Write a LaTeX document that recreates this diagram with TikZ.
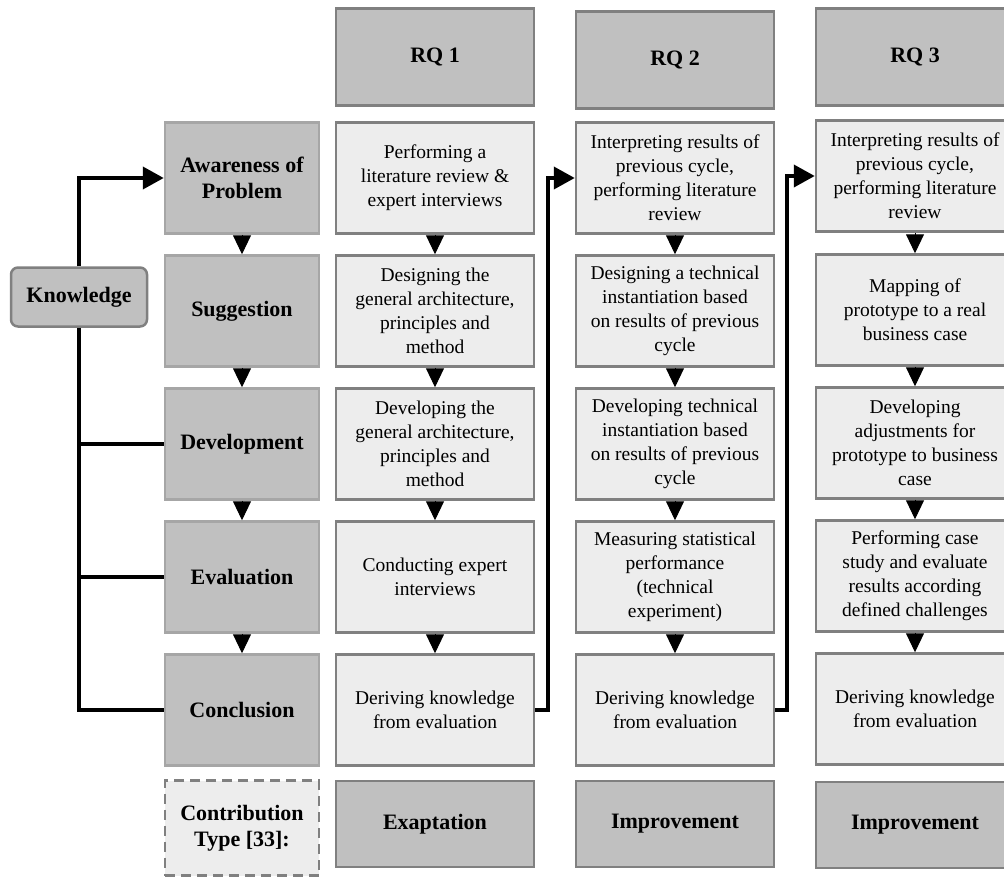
\documentclass[tikz,border=0pt]{standalone}
\usepackage{fontspec}
\setmainfont{Liberation Serif}
\usetikzlibrary{arrows.meta}
\definecolor{darkbox}{HTML}{C0C0C0}
\definecolor{lightbox}{HTML}{EDEDED}
\definecolor{phaseline}{HTML}{A6A6A6}
\definecolor{boxline}{HTML}{808080}

\begin{document}
\begin{tikzpicture}[x=1pt,y=-1pt,
  phase/.style={shape=rectangle,draw=phaseline,fill=darkbox,line width=2.5pt,minimum width=154pt,minimum height=111pt,inner sep=0pt,align=center,font=\bfseries\fontsize{22}{26}\selectfont},
  rq/.style={shape=rectangle,draw=boxline,fill=darkbox,line width=2.5pt,minimum width=198pt,minimum height=97pt,inner sep=0pt,align=center,font=\bfseries\fontsize{22}{26}\selectfont},
  task/.style={shape=rectangle,draw=boxline,fill=lightbox,line width=2.5pt,minimum width=198pt,minimum height=111pt,inner sep=0pt,align=center,font=\fontsize{19.5}{24}\selectfont},
  flow/.style={-{Triangle[length=21pt,width=22pt]},line width=4pt},
  down/.style={-{Triangle[length=19pt,width=18pt]},line width=1pt}]
\useasboundingbox (0,0) rectangle (1004,879);

% phases
\path (79,297) node (know) [shape=rectangle,rounded corners=7pt,draw=boxline,fill=darkbox,line width=2.5pt,minimum width=136pt,minimum height=59pt,font=\bfseries\fontsize{22}{26}\selectfont] {Knowledge};
\path (242,178) node (aware) [phase] {Awareness of\\Problem};
\path (242,311) node (sugg) [phase] {Suggestion};
\path (242,444) node (devel) [phase] {Development};
\path (242,577) node (evalu) [phase] {Evaluation};
\path (242,710) node (concl) [phase] {Conclusion};
\path (242,828) node (contrib) [phase,dash pattern=on 10pt off 6pt,draw=boxline,fill=lightbox,minimum height=95pt] {Contribution\\Type [33]:};

% research questions
\path (435,57) node (rq1) [rq] {RQ 1};
\path (675,60) node (rq2) [rq] {RQ 2};
\path (915,57) node (rq3) [rq] {RQ 3};

% cycle 1
\path (435,178) node (r1a) [task] {Performing a\\literature review \&\\expert interviews};
\path (435,311) node (r1b) [task] {Designing the\\general architecture,\\principles and\\method};
\path (435,444) node (r1c) [task] {Developing the\\general architecture,\\principles and\\method};
\path (435,577) node (r1d) [task] {Conducting expert\\interviews};
\path (435,710) node (r1e) [task] {Deriving knowledge\\from evaluation};
\path (435,824) node (r1f) [rq,minimum height=86pt] {Exaptation};

% cycle 2
\path (675,178) node (r2a) [task] {Interpreting results of\\previous cycle,\\performing literature\\review};
\path (675,311) node (r2b) [task] {Designing a technical\\instantiation based\\on results of previous\\cycle};
\path (675,444) node (r2c) [task] {Developing technical\\instantiation based\\on results of previous\\cycle};
\path (675,577) node (r2d) [task] {Measuring statistical\\performance\\(technical\\experiment)};
\path (675,710) node (r2e) [task] {Deriving knowledge\\from evaluation};
\path (675,824) node (r2f) [rq,minimum height=86pt] {Improvement};

% cycle 3
\path (915,176) node (r3a) [task] {Interpreting results of\\previous cycle,\\performing literature\\review};
\path (915,310) node (r3b) [task] {Mapping of\\prototype to a real\\business case};
\path (915,443) node (r3c) [task] {Developing\\adjustments for\\prototype to business\\case};
\path (915,576) node (r3d) [task] {Performing case\\study and evaluate\\results according\\defined challenges};
\path (915,709) node (r3e) [task] {Deriving knowledge\\from evaluation};
\path (915,825) node (r3f) [rq,minimum height=86pt] {Improvement};

\draw [down] (aware) to (sugg);
\draw [down] (sugg) to (devel);
\draw [down] (devel) to (evalu);
\draw [down] (evalu) to (concl);
\draw [down] (r1a) to (r1b);
\draw [down] (r1b) to (r1c);
\draw [down] (r1c) to (r1d);
\draw [down] (r1d) to (r1e);
\draw [down] (r2a) to (r2b);
\draw [down] (r2b) to (r2c);
\draw [down] (r2c) to (r2d);
\draw [down] (r2d) to (r2e);
\draw [down] (r3a) to (r3b);
\draw [down] (r3b) to (r3c);
\draw [down] (r3c) to (r3d);
\draw [down] (r3d) to (r3e);

\draw [flow] (know.north) |- (aware.west);
\draw [line width=4pt] (know.south) |- (concl.west);
\draw [line width=4pt] (know.south |- devel.west) -- (devel.west);
\draw [line width=4pt] (know.south |- evalu.west) -- (evalu.west);
\draw [flow] (r1e.east) -- ++(13,0) |- (r2a.west);
\draw [flow] (r2e.east) -- ++(12,0) |- (r3a.west);
\end{tikzpicture}
\end{document}
